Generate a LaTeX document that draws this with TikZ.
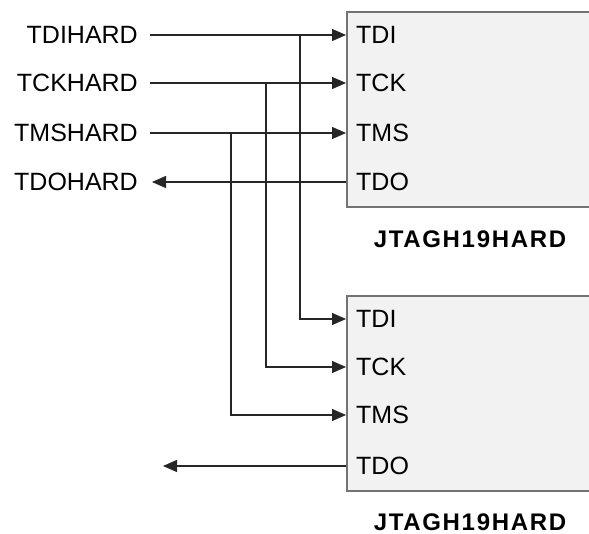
\documentclass[tikz,border=0pt]{standalone}
\usepackage{fontspec}
\setmainfont{Liberation Sans}
\usetikzlibrary{arrows.meta}
\begin{document}
\begin{tikzpicture}[x=1pt,y=-1pt,
  sig/.style={font=\fontsize{25}{29}\selectfont, inner sep=0pt},
  chip/.style={draw=black!55, line width=2pt, fill=black!5, minimum width=270pt, minimum height=195pt, anchor=north west, inner sep=0pt},
  wire/.style={draw=black!85, line width=1.3pt},
  arr/.style={wire, -{Triangle[length=14pt,width=12pt]}},
  title/.style={font=\bfseries\fontsize{24}{28}\selectfont\addfontfeatures{LetterSpace=7}, inner sep=0pt}]
\useasboundingbox (0,0) rectangle (589,534);
% chips
\node[chip] (box1) at (346,11) {};
\node[chip] (box2) at (346,295) {};
% pin points
\coordinate (b1tdi) at (346,35);
\coordinate (b1tck) at (346,83);
\coordinate (b1tms) at (346,133);
\coordinate (b1tdo) at (346,182);
\coordinate (b2tdi) at (346,319);
\coordinate (b2tck) at (346,367);
\coordinate (b2tms) at (346,415);
\coordinate (b2tdo) at (346,466);
% pin labels
\node[sig, anchor=west] (p1tdi) at (356,35) {TDI};
\node[sig, anchor=west] (p1tck) at (356,83) {TCK};
\node[sig, anchor=west] (p1tms) at (356,133) {TMS};
\node[sig, anchor=west] (p1tdo) at (356,182) {TDO};
\node[sig, anchor=west] (p2tdi) at (356,319) {TDI};
\node[sig, anchor=west] (p2tck) at (356,367) {TCK};
\node[sig, anchor=west] (p2tms) at (356,415) {TMS};
\node[sig, anchor=west] (p2tdo) at (356,466) {TDO};
% titles
\node[title] (t1) at (470,239) {JTAGH19HARD};
\node[title] (t2) at (470,522) {JTAGH19HARD};
% external signals
\node[sig, anchor=east] (tdih) at (138,35) {TDIHARD};
\node[sig, anchor=east] (tckh) at (138,83) {TCKHARD};
\node[sig, anchor=east] (tmsh) at (138,133) {TMSHARD};
\node[sig, anchor=east] (tdoh) at (138,182) {TDOHARD};
% junctions
\coordinate (jtdi) at (300,35);
\coordinate (jtck) at (266,83);
\coordinate (jtms) at (231,133);
\coordinate (out2) at (163,466);
% wires
\draw[arr, shorten <=12pt] (tdih) -- (b1tdi);
\draw[arr, shorten <=12pt] (tckh) -- (b1tck);
\draw[arr, shorten <=12pt] (tmsh) -- (b1tms);
\draw[arr, shorten >=14pt] (b1tdo) -- (tdoh);
\draw[arr] (jtdi) |- (b2tdi);
\draw[arr] (jtck) |- (b2tck);
\draw[arr] (jtms) |- (b2tms);
\draw[arr] (b2tdo) -- (out2);
\end{tikzpicture}
\end{document}
